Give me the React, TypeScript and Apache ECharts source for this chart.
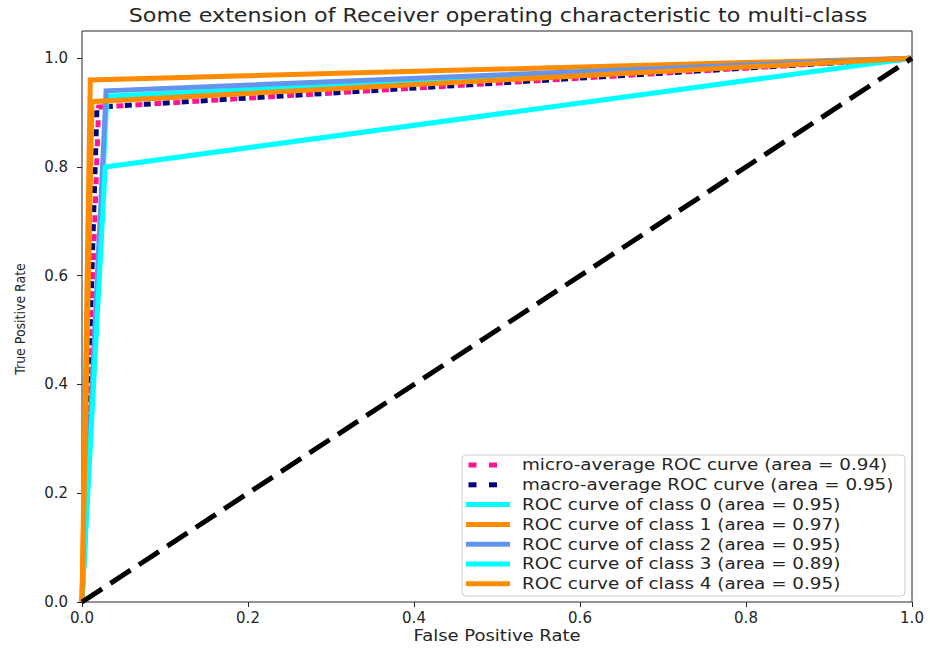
import React, { useEffect, useRef } from "react";
import * as echarts from "echarts";

// Chart texts
const TITLE = "Some extension of Receiver operating characteristic to multi-class";
const X_NAME = "False Positive Rate";
const Y_NAME = "True Positive Rate";
const AXIS_TICKS = [0, 0.2, 0.4, 0.6, 0.8, 1.0];

// ROC curve points (false positive rate / true positive rate)
const microFpr = [0, 0.02, 1];
const microTpr = [0, 0.91, 1];
const macroFpr = [0, 0.018, 1];
const macroTpr = [0, 0.91, 1];
const class0Fpr = [0, 0.03, 1];
const class0Tpr = [0, 0.93, 1];
const class1Fpr = [0, 0.01, 1];
const class1Tpr = [0, 0.96, 1];
const class2Fpr = [0, 0.029, 1];
const class2Tpr = [0, 0.94, 1];
const class3Fpr = [0, 0.028, 1];
const class3Tpr = [0, 0.8, 1];
const class4Fpr = [0, 0.012, 1];
const class4Tpr = [0, 0.92, 1];
const chanceFpr = [0, 1];
const chanceTpr = [0, 1];

// Area under each curve, as printed in the legend
const microAuc = 0.94;
const macroAuc = 0.95;
const classAucs = [0.95, 0.97, 0.95, 0.89, 0.95];

const FONT = "DejaVu Sans";
const TEXT_COLOR = "#262626";

const zip = (xs: number[], ys: number[]) => xs.map((x, i) => [x, ys[i]]);

type Curve = {
  name: string;
  fpr: number[];
  tpr: number[];
  color: string;
  dotted: boolean;
  dashOffset?: number;
};

const curves: Curve[] = [
  {
    name: `micro-average ROC curve (area = ${microAuc.toFixed(2)})`,
    fpr: microFpr,
    tpr: microTpr,
    color: "#ff1493",
    dotted: true,
  },
  {
    name: `macro-average ROC curve (area = ${macroAuc.toFixed(2)})`,
    fpr: macroFpr,
    tpr: macroTpr,
    color: "#000080",
    dotted: true,
    dashOffset: 9,
  },
  ...[
    [class0Fpr, class0Tpr, "#00ffff"],
    [class1Fpr, class1Tpr, "#ff8c00"],
    [class2Fpr, class2Tpr, "#6495ed"],
    [class3Fpr, class3Tpr, "#00ffff"],
    [class4Fpr, class4Tpr, "#ff8c00"],
  ].map(([f, t, c], i) => ({
    name: `ROC curve of class ${i} (area = ${classAucs[i].toFixed(2)})`,
    fpr: f as number[],
    tpr: t as number[],
    color: c as string,
    dotted: false,
  })),
];

function buildLegend() {
  const boxX = 462;
  const boxY = 455;
  const rowTop = 465;
  const rowStep = 19.8;
  const children: any[] = [
    {
      type: "rect",
      shape: { x: boxX, y: boxY, width: 443, height: 141, r: 4 },
      style: { fill: "rgba(255,255,255,0.85)", stroke: "#cccccc", lineWidth: 1 },
    },
  ];
  curves.forEach((c, i) => {
    const cy = rowTop + i * rowStep;
    if (c.dotted) {
      [468.5, 489].forEach((dx) =>
        children.push({
          type: "rect",
          shape: { x: dx, y: cy - 2.5, width: 8, height: 5 },
          style: { fill: c.color },
        })
      );
    } else {
      children.push({
        type: "rect",
        shape: { x: 466, y: cy - 2.5, width: 44, height: 5 },
        style: { fill: c.color },
      });
    }
    children.push({
      type: "text",
      x: 522,
      y: cy,
      scaleX: 1.2,
      style: {
        text: c.name,
        fill: TEXT_COLOR,
        font: `15.3px "${FONT}"`,
        textAlign: "left",
        textVerticalAlign: "middle",
      },
    });
  });
  return { type: "group", z: 100, children };
}

export default function App() {
  const ref = useRef<HTMLDivElement>(null);

  useEffect(() => {
    if (!ref.current) return;
    const chart = echarts.init(ref.current, null, { renderer: "svg" });

    const lineSeries: any[] = curves.map((c) => ({
      type: "line",
      name: c.name,
      data: zip(c.fpr, c.tpr),
      symbol: "none",
      silent: true,
      lineStyle: {
        color: c.color,
        width: 5,
        type: c.dotted ? [7, 12] : "solid",
        dashOffset: c.dashOffset ?? 0,
        cap: "butt",
        join: "miter",
      },
    }));
    lineSeries.push({
      type: "line",
      name: "chance",
      data: zip(chanceFpr, chanceTpr),
      symbol: "none",
      silent: true,
      lineStyle: { color: "#000000", width: 5, type: [24, 10], cap: "butt" },
    });

    const tickFmt = (v: number) =>
      Math.abs(v * 5 - Math.round(v * 5)) < 1e-6 ? v.toFixed(1) : "";

    chart.setOption({
      animation: false,
      backgroundColor: "#ffffff",
      grid: {
        left: 82,
        right: 18,
        top: 31,
        bottom: 46,
        show: true,
        borderColor: "#262626",
        borderWidth: 1,
        backgroundColor: "#ffffff",
      },
      xAxis: {
        type: "value",
        min: 0,
        max: 1,
        interval: 0.2,
        axisLine: { show: false },
        splitLine: { show: false },
        axisTick: {
          show: true,
          inside: false,
          length: 5,
          customValues: AXIS_TICKS,
          lineStyle: { color: "#262626", width: 1 },
        },
        axisLabel: {
          customValues: AXIS_TICKS,
          formatter: tickFmt,
          margin: 8,
          color: TEXT_COLOR,
          fontFamily: FONT,
          fontSize: 15,
        },
      },
      yAxis: {
        type: "value",
        min: 0,
        max: 1.05,
        interval: 0.2,
        axisLine: { show: false },
        splitLine: { show: false },
        axisTick: {
          show: true,
          inside: false,
          length: 5,
          customValues: AXIS_TICKS,
          lineStyle: { color: "#262626", width: 1 },
        },
        axisLabel: {
          customValues: AXIS_TICKS,
          formatter: tickFmt,
          margin: 14,
          color: TEXT_COLOR,
          fontFamily: FONT,
          fontSize: 15,
        },
      },
      series: lineSeries,
      graphic: [
        {
          type: "text",
          x: 498,
          y: 16,
          scaleX: 1.17,
          style: {
            text: TITLE,
            fill: TEXT_COLOR,
            font: `19px "${FONT}"`,
            textAlign: "center",
            textVerticalAlign: "middle",
          },
        },
        {
          type: "text",
          x: 497,
          y: 636,
          scaleX: 1.2,
          style: {
            text: X_NAME,
            fill: TEXT_COLOR,
            font: `15px "${FONT}"`,
            textAlign: "center",
            textVerticalAlign: "middle",
          },
        },
        {
          type: "text",
          x: 20,
          y: 319,
          rotation: Math.PI / 2,
          scaleX: 0.93,
          style: {
            text: Y_NAME,
            fill: TEXT_COLOR,
            font: `13.5px "${FONT}"`,
            textAlign: "center",
            textVerticalAlign: "middle",
          },
        },
        buildLegend(),
      ],
    });

    return () => chart.dispose();
  }, []);

  return (
    <div
      ref={ref}
      style={{ position: "fixed", left: 0, top: 0, width: 930, height: 648 }}
    />
  );
}
